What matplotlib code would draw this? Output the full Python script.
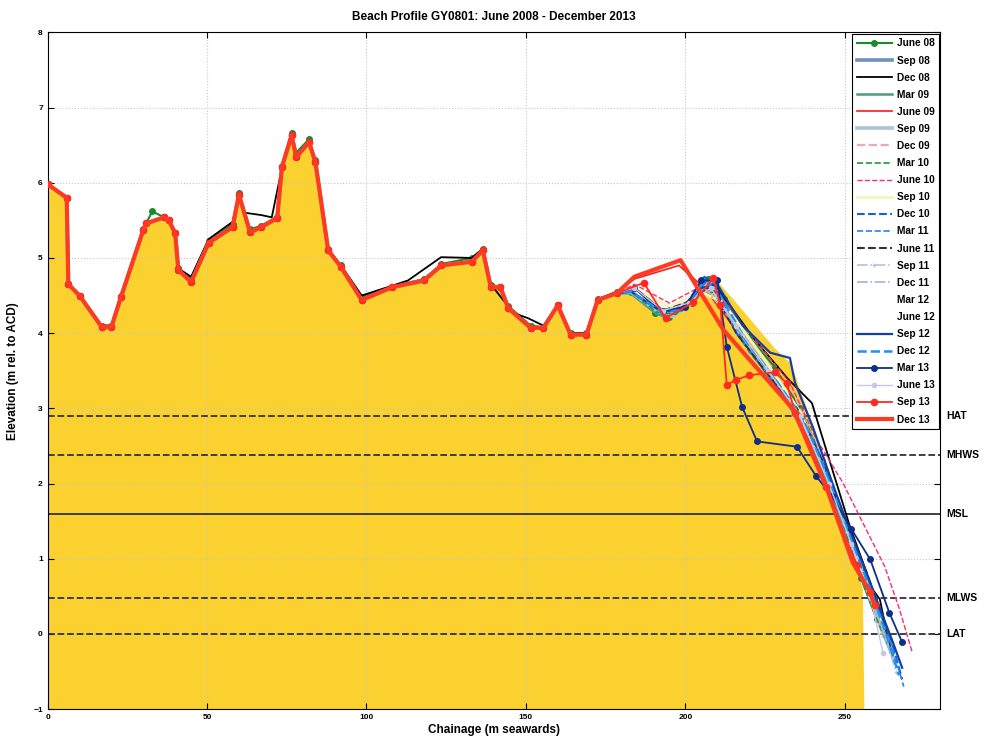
import matplotlib
matplotlib.use("Agg")
import matplotlib.pyplot as plt

# ---------------- data ----------------
# common landward profile (chainage m, elevation m ACD)
base_x = [0, 6, 6.5, 10, 17, 20, 23, 30, 31, 36.5, 38, 40, 41, 45, 50.5, 58, 60, 63.5, 67, 72,
          73.5, 76.5, 78, 82, 84, 88, 92, 98.5, 108, 118, 123.5, 133, 136.5, 139, 142, 144.5,
          151.5, 155.5, 160, 164, 169, 172.5, 178.5]
base_y = [5.98, 5.8, 4.65, 4.5, 4.08, 4.08, 4.48, 5.37, 5.46, 5.54, 5.5, 5.33, 4.84, 4.68, 5.2,
          5.41, 5.84, 5.34, 5.41, 5.53, 6.21, 6.63, 6.34, 6.54, 6.27, 5.1, 4.88, 4.44, 4.61, 4.7,
          4.9, 4.95, 5.1, 4.61, 4.61, 4.33, 4.07, 4.07, 4.37, 3.98, 3.98, 4.44, 4.53]

# landward variants
jun08_land_x = [0, 6, 6.5, 10, 17, 20, 23, 30, 32.8, 36.5, 38, 40, 41, 45, 50.5, 58, 60, 63.5, 67,
                72, 73.5, 76.5, 78, 82, 84, 88, 92, 98.5, 108, 118, 123.5, 133, 136.5, 139, 142,
                144.5, 151.5, 155.5, 160, 164, 169, 172.5, 178.5]
jun08_land_y = [5.98, 5.8, 4.65, 4.5, 4.1, 4.1, 4.5, 5.38, 5.62, 5.54, 5.5, 5.33, 4.86, 4.72, 5.22,
                5.45, 5.86, 5.38, 5.43, 5.55, 6.22, 6.66, 6.4, 6.58, 6.3, 5.12, 4.9, 4.48, 4.62,
                4.72, 4.92, 5.0, 5.12, 4.64, 4.62, 4.36, 4.1, 4.08, 4.38, 4.0, 4.0, 4.45, 4.55]
dec08_land_x = [0, 6, 6.5, 10, 17, 20, 23, 30, 31, 36.5, 38, 40, 41, 45, 50.5, 58, 60, 62, 67, 70.3,
                73.5, 76.5, 78, 82, 84, 88, 92, 98.5, 108, 113, 123.4, 133, 136.5, 139, 146,
                150.6, 155.5, 160, 164, 169, 172.5, 178.5]
dec08_land_y = [5.98, 5.8, 4.65, 4.5, 4.1, 4.1, 4.5, 5.38, 5.47, 5.55, 5.5, 5.33, 4.86, 4.75, 5.25,
                5.48, 5.82, 5.6, 5.57, 5.54, 6.2, 6.6, 6.36, 6.55, 6.28, 5.1, 4.9, 4.5, 4.63, 4.7,
                5.01, 5.0, 5.12, 4.65, 4.27, 4.2, 4.1, 4.38, 4.0, 4.0, 4.45, 4.55]

# seaward tails (from ~180 m onward)
jun08_x = [183, 190.6, 195, 202, 207, 212, 220, 228, 236, 243, 249, 255, 260, 264]
jun08_y = [4.55, 4.27, 4.22, 4.4, 4.72, 4.45, 3.95, 3.55, 3.0, 2.3, 1.5, 0.75, 0.2, -0.1]
sep08_x = [183, 191, 196, 203, 208, 215, 224, 232, 240, 247, 254, 260, 265]
sep08_y = [4.55, 4.3, 4.25, 4.45, 4.68, 4.1, 3.6, 3.1, 2.45, 1.75, 0.9, 0.25, -0.2]
dec08_x = [184, 192, 198, 205, 210, 222, 232, 239.7, 242, 251.6, 258.8, 261, 263.4]
dec08_y = [4.6, 4.3, 4.3, 4.55, 4.6, 3.9, 3.4, 3.07, 2.75, 1.43, 0.59, 0.46, -0.03]
mar09_x = [182.8, 190.6, 194.4, 202.5, 207, 214, 224, 234, 242, 250, 257, 263]
mar09_y = [4.53, 4.27, 4.2, 4.4, 4.65, 4.2, 3.55, 2.95, 2.25, 1.4, 0.6, 0.0]
jun09_x = [184, 198, 206, 214, 226, 236, 245, 252, 258, 262]
jun09_y = [4.72, 4.9, 4.6, 4.15, 3.45, 2.85, 1.9, 1.05, 0.5, 0.1]
sep09_x = [183, 191, 196, 203, 208, 216, 226, 235, 242, 249, 256, 262, 266]
sep09_y = [4.55, 4.3, 4.22, 4.45, 4.7, 4.05, 3.5, 3.0, 2.4, 1.6, 0.75, 0.0, -0.35]
dec09_x = [184, 193, 200, 207, 215, 224, 234, 243, 251, 258, 263]
dec09_y = [4.6, 4.3, 4.4, 4.6, 4.15, 3.7, 3.2, 2.3, 1.3, 0.45, -0.1]
mar10_x = [183, 191, 197, 204, 209, 218, 228, 238, 246, 253, 259, 264]
mar10_y = [4.55, 4.28, 4.25, 4.5, 4.55, 3.95, 3.4, 2.8, 1.95, 1.0, 0.3, -0.2]
jun10_x = [184, 195, 204, 210, 222, 232.8, 241, 249.4, 256, 262.5, 267, 271.2]
jun10_y = [4.65, 4.4, 4.6, 4.55, 3.9, 3.34, 2.6, 2.01, 1.45, 0.9, 0.35, -0.25]
sep10_x = [184, 195, 205, 212, 224, 236, 246, 254, 261, 266]
sep10_y = [4.6, 4.35, 4.55, 4.4, 3.7, 2.95, 1.95, 1.0, 0.25, -0.3]
dec10_x = [183, 192, 199, 206, 210, 216, 224, 232, 240, 248, 255, 261, 265, 268]
dec10_y = [4.55, 4.3, 4.3, 4.75, 4.6, 4.0, 3.55, 3.15, 2.6, 1.75, 1.0, 0.35, -0.15, -0.6]
mar11_x = [183, 192, 199, 207, 213, 220, 229, 238, 246, 253, 259, 264, 268.5]
mar11_y = [4.55, 4.3, 4.35, 4.7, 4.3, 3.75, 3.3, 2.75, 1.9, 1.15, 0.5, -0.05, -0.7]
jun11_x = [184, 193, 200, 208, 216, 226, 235, 243, 250, 257, 262, 265]
jun11_y = [4.6, 4.3, 4.4, 4.62, 4.0, 3.45, 3.0, 2.3, 1.55, 0.8, 0.2, -0.3]
sep11_x = [183, 192, 200, 207, 215, 225, 234, 243, 251, 258, 263, 266]
sep11_y = [4.55, 4.3, 4.35, 4.65, 4.15, 3.55, 3.05, 2.25, 1.4, 0.6, -0.05, -0.5]
dec11_x = [183, 192, 200, 206, 214, 223, 232, 241, 249, 256, 261, 265]
dec11_y = [4.55, 4.3, 4.35, 4.6, 4.2, 3.65, 3.15, 2.45, 1.6, 0.8, 0.15, -0.35]
mar12_x, mar12_y = [], []
jun12_x, jun12_y = [], []
sep12_x = [183, 192, 198, 205, 210, 218, 226.6, 232.8, 234.4, 240, 247, 254, 260, 265, 268]
sep12_y = [4.55, 4.3, 4.3, 4.6, 4.65, 4.1, 3.74, 3.67, 3.34, 2.75, 1.9, 1.1, 0.45, -0.1, -0.45]
dec12_x = [183, 192, 199, 206, 211, 219, 228, 237, 245, 252, 258, 263, 267]
dec12_y = [4.55, 4.3, 4.3, 4.7, 4.5, 3.9, 3.4, 2.85, 2.05, 1.25, 0.6, 0.0, -0.55]
mar13_x = [184, 193, 200, 205, 210, 213, 217.8, 222.5, 235, 241, 246, 252, 258, 264, 268]
mar13_y = [4.6, 4.3, 4.35, 4.7, 4.7, 3.82, 3.02, 2.56, 2.49, 2.1, 1.83, 1.4, 0.99, 0.28, -0.11]
jun13_x = [184, 193, 201, 208, 216, 226, 236, 245, 252, 258, 262]
jun13_y = [4.6, 4.3, 4.4, 4.6, 4.1, 3.5, 2.9, 2.0, 1.2, 0.5, -0.25]
sep13_x = [187, 193.8, 202.5, 208.8, 211, 213, 216, 220, 228, 231.8, 234.4, 244, 253.7, 257.8, 259.4]
sep13_y = [4.67, 4.2, 4.41, 4.73, 4.37, 3.31, 3.38, 3.44, 3.48, 3.34, 2.94, 1.95, 0.92, 0.56, 0.39]
dec13_x = [184, 198.5, 212, 234, 244.5, 252.5, 258, 259.5]
dec13_y = [4.75, 4.97, 4.04, 2.98, 1.92, 0.95, 0.55, 0.36]

# beach fill (shaded sediment) profile tail
fill_tail_x = [182.8, 190.6, 194.4, 202.5, 206.9, 208.8, 215, 222, 228, 233, 238, 243, 248, 252, 255.5, 256]
fill_tail_y = [4.53, 4.27, 4.2, 4.4, 4.71, 4.75, 4.45, 4.1, 3.8, 3.6, 3.0, 2.3, 1.6, 1.0, 0.62, -1]

# tide levels
tide_names = ["HAT", "MHWS", "MSL", "MLWS", "LAT"]
tide_levels = [2.9, 2.38, 1.6, 0.48, 0.0]

survey_labels = ["June 08", "Sep 08", "Dec 08", "Mar 09", "June 09", "Sep 09", "Dec 09",
                 "Mar 10", "June 10", "Sep 10", "Dec 10", "Mar 11", "June 11", "Sep 11",
                 "Dec 11", "Mar 12", "June 12", "Sep 12", "Dec 12", "Mar 13", "June 13",
                 "Sep 13", "Dec 13"]

# ---------------- plot ----------------
plt.rcParams['font.family'] = ['Liberation Sans', 'DejaVu Sans']
fig = plt.figure(figsize=(9.92, 7.52), dpi=100)
ax = fig.add_axes([0.048, 0.057, 0.9, 0.9])

ax.fill_between(base_x + fill_tail_x, base_y + fill_tail_y, -1, color='#FAD12F', lw=0, zorder=1)

def full(land_x, land_y, tx, ty):
    if not tx:
        return [], []
    return land_x + tx, land_y + ty

series = [
    (full(jun08_land_x, jun08_land_y, jun08_x, jun08_y), dict(color='#1b8a2e', lw=1.5, marker='o', ms=4)),
    (full(base_x, base_y, sep08_x, sep08_y), dict(color='#7090c0', lw=2.6)),
    (full(dec08_land_x, dec08_land_y, dec08_x, dec08_y), dict(color='black', lw=1.3)),
    (full(base_x, base_y, mar09_x, mar09_y), dict(color='#4c9c7c', lw=1.8)),
    (full(base_x, base_y, jun09_x, jun09_y), dict(color='#ff1a1a', lw=1.2)),
    (full(base_x, base_y, sep09_x, sep09_y), dict(color='#a8c4dc', lw=2.6)),
    (full(base_x, base_y, dec09_x, dec09_y), dict(color='#f0a8b8', lw=1.6, ls='--')),
    (full(base_x, base_y, mar10_x, mar10_y), dict(color='#1a9a3a', lw=1.2, ls='--')),
    (full(base_x, base_y, jun10_x, jun10_y), dict(color='#ff2a70', lw=1.0, ls='--')),
    (full(base_x, base_y, sep10_x, sep10_y), dict(color='#f2f7b8', lw=2.0)),
    (full(base_x, base_y, dec10_x, dec10_y), dict(color='#1060e0', lw=1.5, ls='--')),
    (full(base_x, base_y, mar11_x, mar11_y), dict(color='#2a80ee', lw=1.2, ls='--')),
    (full(base_x, base_y, jun11_x, jun11_y), dict(color='#333333', lw=1.5, ls='--')),
    (full(base_x, base_y, sep11_x, sep11_y), dict(color='#b0c4e4', lw=1.2, ls='-.', marker='+', ms=3)),
    (full(base_x, base_y, dec11_x, dec11_y), dict(color='#a0b4d4', lw=1.2, ls='-.')),
    ((mar12_x, mar12_y), dict(color='white', lw=1.0)),
    ((jun12_x, jun12_y), dict(color='white', lw=1.0)),
    (full(base_x, base_y, sep12_x, sep12_y), dict(color='#1040a8', lw=1.6)),
    (full(base_x, base_y, dec12_x, dec12_y), dict(color='#2090f0', lw=1.8, ls='--')),
    (full(base_x, base_y, mar13_x, mar13_y), dict(color='#102e88', lw=1.3, marker='o', ms=4)),
    (full(base_x, base_y, jun13_x, jun13_y), dict(color='#c8c8e4', lw=1.0, marker='o', ms=3)),
    (full(base_x, base_y, sep13_x, sep13_y), dict(color='#ff2a20', lw=1.3, marker='o', ms=4.5)),
    (full(base_x, base_y, dec13_x, dec13_y), dict(color='#ff3a22', lw=3.0)),
]

handles = []
for (xy, style), lab in zip(series, survey_labels):
    h, = ax.plot(xy[0], xy[1], label=lab, zorder=3, **style)
    handles.append(h)

for name, lev in zip(tide_names, tide_levels):
    ls = '-' if name == 'MSL' else '--'
    ax.axhline(lev, color='#2b3340', lw=1.3, ls=ls, zorder=2.5)
    ax.text(281.8, lev, name, fontsize=7.5, fontweight='bold', va='center', ha='left',
            clip_on=False)

ax.set_xlim(0, 280)
ax.set_ylim(-1, 8)
ax.set_xticks([0, 50, 100, 150, 200, 250])
ax.set_yticks(range(-1, 9))
ax.tick_params(direction='in', top=True, right=True, labelsize=6, length=4)
for lbl in ax.get_xticklabels() + ax.get_yticklabels():
    lbl.set_fontweight('bold')
ax.grid(True, color='#c8c8c8', ls=':', lw=0.8)
ax.set_xlabel('Chainage (m seawards)', fontsize=8.5, fontweight='bold', labelpad=2)
ax.set_ylabel('Elevation (m rel. to ACD)', fontsize=8.5, fontweight='bold', labelpad=10)
ax.set_title('Beach Profile GY0801: June 2008 - December 2013', fontsize=8.5,
             fontweight='bold', pad=9)

leg = ax.legend(handles=handles, loc='upper right', prop={'weight': 'bold', 'size': 7.3},
                labelspacing=0.7, handlelength=3.4, handletextpad=0.5, borderaxespad=0.15,
                fancybox=False, framealpha=1, edgecolor='black', borderpad=0.45)
leg.get_frame().set_linewidth(0.8)
leg.set_zorder(5)

fig.savefig('out.png', dpi=100)
